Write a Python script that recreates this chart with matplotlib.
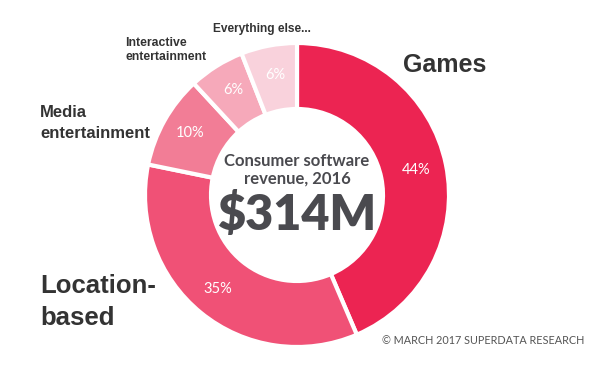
import matplotlib
matplotlib.use("Agg")
import matplotlib.pyplot as plt

# data
segments = ["Games", "Location-based", "Media entertainment", "Interactive entertainment", "Everything else..."]
shares = [44, 35, 10, 6, 6]
pct_labels = ["44%", "35%", "10%", "6%", "6%"]
colors = ["#EC2452", "#F05176", "#F27D96", "#F6A9BA", "#F9D2DC"]

fig = plt.figure(figsize=(6, 3.79), dpi=100)
ax = fig.add_axes([0, 0, 1, 1])

cx, cy, r = 297, 379 - 195, 152
wedges, _ = ax.pie(shares, colors=colors, startangle=90, counterclock=False,
                   center=(cx, cy), radius=r, frame=True,
                   wedgeprops=dict(width=66, edgecolor="white", linewidth=3))
ax.set_xlim(0, 600)
ax.set_ylim(0, 379)
ax.set_aspect("equal")
ax.axis("off")

# percentage labels (pixel positions in image coords)
pct_pos = [(416, 170), (218, 289), (190, 133), (233, 90), (275, 75)]
for lab, (x, y) in zip(pct_labels, pct_pos):
    ax.text(x, 379 - y, lab, color="white", fontsize=10.5, family="Lato",
            ha="center", va="center")

lab_font = ["Liberation Sans", "DejaVu Sans"]
ax.text(403, 379 - 65, "Games", fontsize=18, fontweight="bold", family=lab_font,
        color="#333333", ha="left", va="center")
ax.text(40, 379 - 302, "Location-\nbased", fontsize=18.5, fontweight="bold", family=lab_font,
        color="#333333", ha="left", va="center", linespacing=1.4)
ax.text(40, 379 - 123, "Media\nentertainment", fontsize=12, fontweight="bold", family=lab_font,
        color="#333333", ha="left", va="center", linespacing=1.45)
ax.text(125, 379 - 50, "Interactive\nentertainment", fontsize=8.8, fontweight="bold", family=lab_font,
        color="#333333", ha="left", va="center", linespacing=1.25)
ax.text(213, 379 - 29, "Everything else...", fontsize=8.6, fontweight="bold", family=lab_font,
        color="#333333", ha="left", va="center")

# center text
ax.text(cx, 379 - 170, "Consumer software\nrevenue, 2016", fontsize=12, fontweight="bold",
        family="Lato", color="#4A4A4F", ha="center", va="center", linespacing=1.15)
ax.text(cx, 379 - 215, "$314M", fontsize=35, fontweight="heavy",
        family="Lato", color="#4A4A4F", ha="center", va="center")

ax.text(382, 379 - 340, "\u00a9 MARCH 2017 SUPERDATA RESEARCH", fontsize=7.8,
        family="Lato", color="#555555", ha="left", va="center")

fig.savefig("out.png", dpi=100, facecolor="white")
